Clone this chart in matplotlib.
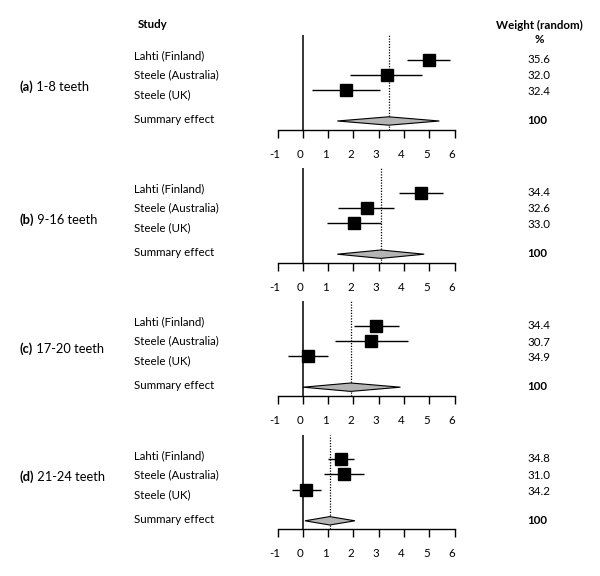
import matplotlib
matplotlib.use('Agg')
import matplotlib.pyplot as plt
import matplotlib.transforms as mtransforms
from matplotlib.patches import Polygon

# ---------------- data ----------------
studies = ['Lahti (Finland)', 'Steele (Australia)', 'Steele (UK)']
summary_label = 'Summary effect'
panel_tags = ['(a)', '(b)', '(c)', '(d)']
panel_names = ['1-8 teeth', '9-16 teeth', '17-20 teeth', '21-24 teeth']

est = [[4.98, 3.32, 1.71],
       [4.68, 2.52, 2.02],
       [2.90, 2.70, 0.20],
       [1.52, 1.62, 0.12]]
ci_lo = [[4.13, 1.86, 0.36],
         [3.82, 1.40, 0.94],
         [2.02, 1.26, -0.59],
         [0.99, 0.83, -0.43]]
ci_hi = [[5.84, 4.71, 3.06],
         [5.55, 3.61, 3.08],
         [3.79, 4.17, 1.00],
         [2.02, 2.41, 0.70]]
sum_est = [3.39, 3.08, 1.89, 1.06]
sum_lo = [1.36, 1.36, 0.00, 0.08]
sum_hi = [5.40, 4.80, 3.86, 2.06]
weights = [[35.6, 32.0, 32.4],
           [34.4, 32.6, 33.0],
           [34.4, 30.7, 34.9],
           [34.8, 31.0, 34.2]]
total_weight = 100
xticks = [-1, 0, 1, 2, 3, 4, 5, 6]

# ---------------- layout ----------------
W, H, DPI = 600, 576, 100
plt.rcParams['font.family'] = ['Lato', 'DejaVu Sans']
plt.rcParams['axes.unicode_minus'] = False
FS = 8.3
FS_GROUP = 9.3

fig = plt.figure(figsize=(W / DPI, H / DPI), dpi=DPI)

ax_left_px, ax_right_px = 277.7, 454.5
axis_y_px = [129.5, 262.7, 395.7, 529.3]
panel_h_px = 94.5
mark_rows = [70.0, 55.0, 39.5]
sum_row = 8.5
text_rows = [74.0, 54.5, 35.0]
sum_text_row = 10.0
weight_rows = [70.3, 53.7, 38.1]
sum_weight_row = 9.2
group_rows = [42.8, 42.7, 47.4, 52.6]
diamond_half = 4.2

study_x_px = 134.0
group_x_px = 19.3
weight_x_px = 539.0


def px_to_fig_x(px):
    return px / W


for i in range(4):
    bottom = 1 - axis_y_px[i] / H
    ax = fig.add_axes([ax_left_px / W, bottom,
                       (ax_right_px - ax_left_px) / W, panel_h_px / H])
    ax.set_xlim(xticks[0], xticks[-1])
    ax.set_ylim(0, panel_h_px)
    for s in ['left', 'right', 'top']:
        ax.spines[s].set_visible(False)
    ax.spines['bottom'].set_linewidth(1.0)
    ax.set_yticks([])
    ax.set_xticks(xticks)
    ax.set_xticklabels([str(t) for t in xticks])
    ax.tick_params(axis='x', direction='out', length=5.8, width=1.0,
                   pad=8.0, labelsize=FS)
    shift = mtransforms.ScaledTranslation(-3 / DPI, 0, fig.dpi_scale_trans)
    for lbl in ax.get_xticklabels():
        lbl.set_transform(lbl.get_transform() + shift)
    ax.patch.set_visible(False)

    # zero line and summary dotted line
    ax.axvline(0, color='black', lw=1.1, zorder=1)
    ax.axvline(sum_est[i], color='black', lw=0.9,
               linestyle=(0, (1.0, 1.2)), zorder=1)

    # study CIs and squares
    ax.hlines(mark_rows, ci_lo[i], ci_hi[i], color='black', lw=1.0, zorder=2)
    ax.plot(est[i], mark_rows, 's', ms=9.1, color='black',
            markeredgecolor='black', zorder=3, linestyle='none')

    # summary diamond
    dia = Polygon([(sum_lo[i], sum_row), (sum_est[i], sum_row + diamond_half),
                   (sum_hi[i], sum_row), (sum_est[i], sum_row - diamond_half)],
                  closed=True, facecolor='#b4b4b4', edgecolor='black',
                  lw=0.8, zorder=3)
    ax.add_patch(dia)

    # texts (x in figure fraction, y in data)
    tr = mtransforms.blended_transform_factory(fig.transFigure, ax.transData)
    for name, ty in zip(studies, text_rows):
        ax.text(px_to_fig_x(study_x_px), ty, name, transform=tr, ha='left',
                va='center', fontsize=FS, clip_on=False)
    ax.text(px_to_fig_x(study_x_px), sum_text_row, summary_label,
            transform=tr, ha='left', va='center', fontsize=FS, clip_on=False)
    for w, wy in zip(weights[i], weight_rows):
        ax.text(px_to_fig_x(weight_x_px), wy, f'{w:.1f}', transform=tr,
                ha='center', va='center', fontsize=FS, clip_on=False)
    ax.text(px_to_fig_x(weight_x_px - 2), sum_weight_row, str(total_weight),
            transform=tr, ha='center', va='center', fontsize=FS,
            fontweight='bold', clip_on=False)

    t1 = ax.text(px_to_fig_x(group_x_px), group_rows[i], panel_tags[i],
                 transform=tr, ha='left', va='center', fontsize=FS_GROUP,
                 fontweight='bold', clip_on=False)
    ax.annotate(' ' + panel_names[i], xy=(1, 0), xycoords=t1,
                ha='left', va='bottom', fontsize=FS_GROUP,
                annotation_clip=False)

# headers
fig.text(137.7 / W, 1 - 25 / H, 'Study', ha='left', va='center',
         fontsize=FS, fontweight='bold')
fig.text(weight_x_px / W, 1 - 25 / H, 'Weight (random)', ha='center',
         va='center', fontsize=FS, fontweight='bold')
fig.text(weight_x_px / W, 1 - 39.5 / H, '%', ha='center', va='center',
         fontsize=FS, fontweight='bold')

fig.savefig('out.png', dpi=DPI)
